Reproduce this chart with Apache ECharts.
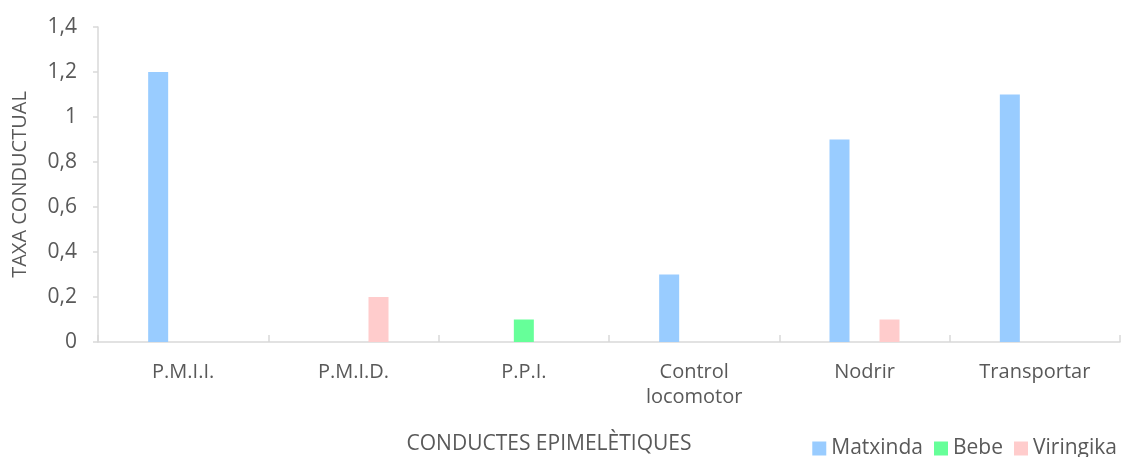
<!DOCTYPE html>
<html>
<head>
<meta charset="utf-8">
<script src="https://cdn.jsdelivr.net/npm/echarts@6/dist/echarts.min.js"></script>
<style>
  html, body { margin: 0; padding: 0; background: #fff; }
  #chart { width: 1125px; height: 457px; }
</style>
</head>
<body>
<div id="chart"></div>
<script>
// Categories of epimeletic behaviour
const categories = ['P.M.I.I.', 'P.M.I.D.', 'P.P.I.', 'Control\nlocomotor', 'Nodrir', 'Transportar'];
// Behaviour rate per group
const matxinda = [1.2, 0, 0, 0.3, 0.9, 1.1];
const bebe = [0, 0, 0.1, 0, 0, 0];
const viringika = [0, 0.2, 0, 0, 0.1, 0];
const yTicks = [0, 0.2, 0.4, 0.6, 0.8, 1, 1.2, 1.4];

const font = 'Open Sans, Noto Sans, sans-serif';
const textColor = '#595959';
const lineColor = '#D9D9D9';

const chart = echarts.init(document.getElementById('chart'));

function bar(name, data, color) {
  return {
    name: name,
    type: 'bar',
    data: data.map(v => (v === 0 ? null : v)),
    barWidth: 20,
    barGap: '25%',
    itemStyle: { color: color },
    emphasis: { disabled: true }
  };
}

chart.setOption({
  animation: false,
  textStyle: { fontFamily: font },
  grid: { left: 98, right: 5, top: 27, bottom: 115, containLabel: false, outerBoundsMode: 'none' },
  legend: {
    right: 3,
    bottom: -7,
    itemWidth: 14,
    itemHeight: 14,
    itemGap: 11,
    icon: 'rect',
    textStyle: { color: textColor, fontSize: 21, fontFamily: font },
    data: ['Matxinda', 'Bebe', 'Viringika']
  },
  xAxis: {
    type: 'category',
    data: categories,
    name: 'CONDUCTES EPIMELÈTIQUES',
    nameLocation: 'middle',
    nameGap: 92,
    nameTextStyle: { color: textColor, fontSize: 21, fontFamily: font, padding: [0, 120, 0, 0] },
    axisLine: { lineStyle: { color: lineColor, width: 1.5 } },
    axisTick: { show: true, inside: true, length: 7, lineStyle: { color: lineColor, width: 1.5 } },
    axisLabel: { color: textColor, fontSize: 20, fontFamily: font, margin: 18, lineHeight: 25 },
    splitLine: { show: false }
  },
  yAxis: {
    type: 'value',
    min: 0,
    max: 1.4,
    interval: 0.2,
    name: 'TAXA CONDUCTUAL',
    nameLocation: 'middle',
    nameGap: 68,
    nameTextStyle: { color: textColor, fontSize: 20, fontFamily: font },
    axisLine: { show: true, lineStyle: { color: lineColor, width: 1.5 } },
    axisTick: { show: true, length: 5, lineStyle: { color: lineColor, width: 1.5 } },
    axisLabel: {
      color: textColor, fontSize: 21, fontFamily: font, margin: 21,
      formatter: v => {
        const t = yTicks.find(x => Math.abs(x - v) < 1e-9);
        return String(t !== undefined ? t : v).replace('.', ',');
      }
    },
    splitLine: { show: false }
  },
  series: [
    bar('Matxinda', matxinda, '#99CCFF'),
    bar('Bebe', bebe, '#66FF99'),
    bar('Viringika', viringika, '#FFCCCC')
  ]
});
</script>
</body>
</html>
